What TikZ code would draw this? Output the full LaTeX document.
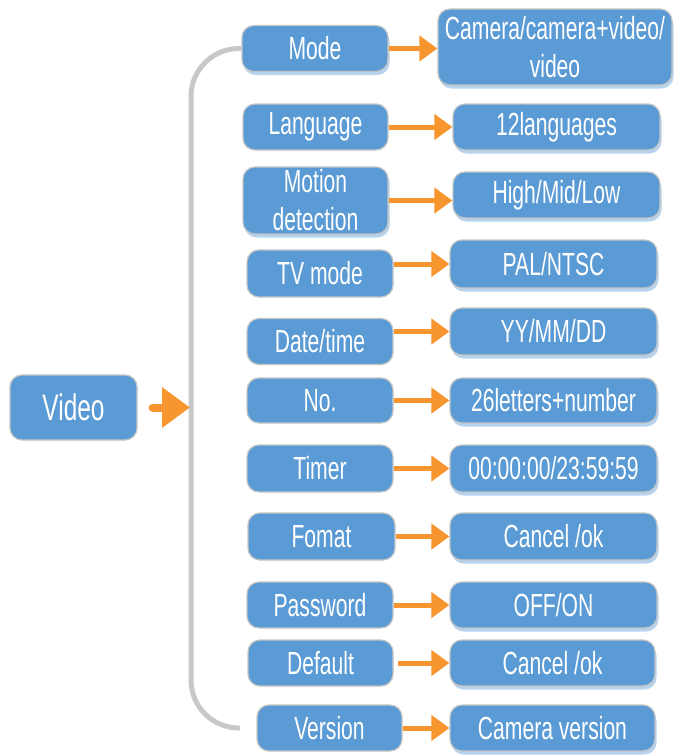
\documentclass[tikz,border=0pt]{standalone}
\usepackage{fontspec}
\setmainfont{Liberation Sans}[FakeStretch=0.66]
\usetikzlibrary{arrows.meta,shadows}
\definecolor{boxblue}{HTML}{5B9BD5}
\definecolor{boxedge}{HTML}{C4C4C4}
\definecolor{arrorange}{HTML}{F7962F}
\definecolor{brgrey}{HTML}{C8C8C8}

\begin{document}
\begin{tikzpicture}
                [
                    x=1pt, y=-1pt,
                    itembox/.style={rectangle, rounded corners=12pt, draw=boxedge, line width=1.2pt, fill=boxblue, text=white, inner sep=0pt, align=center, minimum width=146pt, minimum height=46pt, font=\fontsize{32}{38}\selectfont},
                    valuebox/.style={itembox, minimum width=207pt},
                    shadowed/.style={drop shadow={shadow xshift=1.5pt, shadow yshift=-3.5pt, fill=boxblue!55!white, opacity=.8}},
                    rootbox/.style={itembox, minimum width=127pt, minimum height=65pt, font=\fontsize{37}{42}\selectfont},
                    link/.style={-{Triangle[length=18pt,width=25pt]}, draw=arrorange, line width=5pt},
                    biglink/.style={-{Triangle[length=28pt,width=39pt]}, draw=arrorange, line width=8pt, line cap=round},
                    bracketline/.style={draw=brgrey, line width=5pt, rounded corners=48pt}
                ]
                \useasboundingbox (0,0) rectangle (674,756);

                \node [rootbox] (video) at (73.5,407.5) {Video};

                \node [itembox, shadowed] (mode) at (315,48.5) {Mode};
                \node [itembox, minimum width=145pt] (language) at (315.5,127) {Language};
                \node [itembox, shadowed, minimum width=145pt, minimum height=67pt] (motion) at (315.5,200.5) {Motion\\detection};
                \node [itembox, minimum height=47pt] (tvmode) at (320,273.5) {TV mode};
                \node [itembox] (datetime) at (320,341.5) {Date/time};
                \node [itembox, minimum height=45pt] (number) at (320,400.5) {No.};
                \node [itembox, minimum height=47pt] (timer) at (320,468.5) {Timer};
                \node [itembox, minimum width=147pt, minimum height=47pt] (fomat) at (321.5,536.5) {Fomat};
                \node [itembox] (password) at (320,605) {Password};
                \node [itembox, minimum width=145pt] (default) at (320.5,663) {Default};
                \node [itembox, minimum width=145pt] (version) at (329.5,728) {Version};

                \node [valuebox, shadowed, minimum width=234pt, minimum height=76pt] (modeval) at (555,47) {Camera/camera+video/\\video};
                \node [valuebox, shadowed] (languageval) at (556.5,127) {12languages};
                \node [valuebox, shadowed] (motionval) at (556.5,195) {High/Mid/Low};
                \node [valuebox, shadowed, minimum height=48pt] (tvmodeval) at (553.5,264) {PAL/NTSC};
                \node [valuebox, shadowed, minimum height=47pt] (datetimeval) at (553.5,331.5) {YY/MM/DD};
                \node [valuebox, shadowed, minimum height=45pt] (numberval) at (553.5,400.5) {26letters+number};
                \node [valuebox, shadowed, minimum height=47pt] (timerval) at (553.5,468.5) {00:00:00/23:59:59};
                \node [valuebox, shadowed, minimum height=47pt] (fomatval) at (553.5,536.5) {Cancel /ok};
                \node [valuebox, shadowed] (passwordval) at (553.5,605) {OFF/ON};
                \node [valuebox, shadowed, minimum width=205pt] (defaultval) at (552.5,663) {Cancel /ok};
                \node [valuebox, shadowed, minimum width=205pt] (versionval) at (552.5,728) {Camera version};

                % bracket
                \coordinate (brtop) at (mode.west);
                \coordinate (brmid) at (191,407.5);
                \coordinate (brbot) at (240,728);
                \draw [bracketline] (brtop) -| (brmid) |- (brbot);
                \draw [biglink] ([xshift=15pt]video.east) -- ([xshift=-1pt]brmid);

                \draw [link] (mode.east) -- (mode.east -| modeval.west);
                \draw [link] (language.east) -- (languageval.west);
                \draw [link] (motion.east) -- (motion.east -| motionval.west);
                \draw [link] (tvmode.east |- tvmodeval.west) -- (tvmodeval.west);
                \draw [link] (datetime.east |- datetimeval.west) -- (datetimeval.west);
                \draw [link] (number.east) -- (numberval.west);
                \draw [link] (timer.east) -- (timerval.west);
                \draw [link] (fomat.east) -- (fomatval.west);
                \draw [link] (password.east) -- (passwordval.west);
                \draw [link] ([xshift=4pt]default.east) -- (defaultval.west);
                \draw [link] (version.east) -- (versionval.west);

            \end{tikzpicture}
\end{document}
